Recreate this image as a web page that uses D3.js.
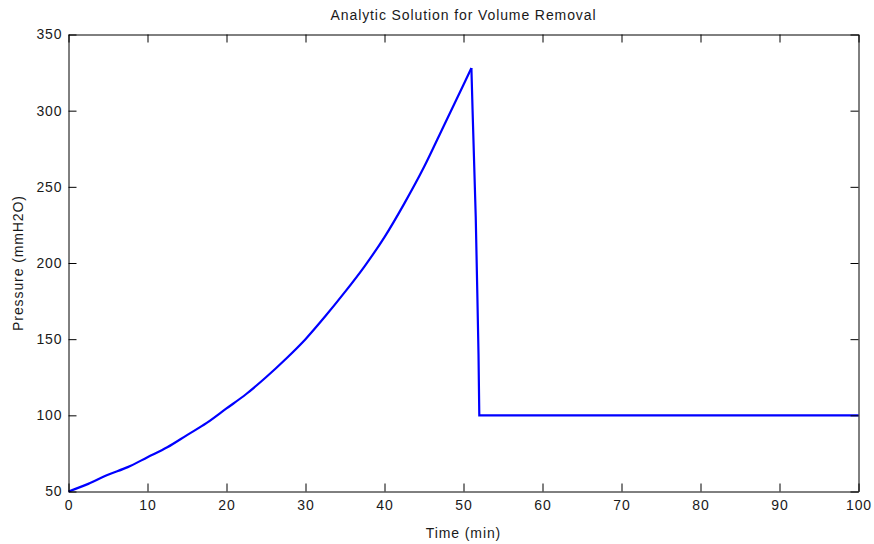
<!DOCTYPE html>
<meta charset="utf-8">
<script src="https://cdn.jsdelivr.net/npm/d3@7"></script>
<style>
  body { margin: 0; background: #fff; }
  text { font-family: "Liberation Sans", Arial, sans-serif; font-size: 14px; letter-spacing: 0.9px; fill: #1a1a1a; }
</style>
<body>
<script>

var width = 874
var height = 544

// readings from the picture
var time = [0, 2.5, 5, 7.5, 10, 12.5, 15, 17.5, 20, 22.5, 25, 27.5, 30, 32.5, 35, 37.5, 40, 42.5, 45, 47.5, 50, 51,
            51.15, 51.35, 51.55, 51.75, 51.9, 52, 100]
var pressure = [50, 55, 61, 66, 72.5, 79, 87, 95, 104.5, 114, 125, 137, 150, 165, 181, 198, 217, 239, 263, 290, 317, 328,
                300, 265, 230, 180, 140, 100, 100]
var xTicks = [0, 10, 20, 30, 40, 50, 60, 70, 80, 90, 100]
var yTicks = [50, 100, 150, 200, 250, 300, 350]

var plotLeft = 68.5, plotRight = 858.5, plotTop = 34.5, plotBottom = 491.5

var x = d3.scaleLinear().domain([0, 100]).range([plotLeft, plotRight])
var y = d3.scaleLinear().domain([50, 350]).range([plotBottom, plotTop])

var svg = d3.select("body").append("svg")
    .attr("width", width)
    .attr("height", height)

// curve: smooth rise up to the peak, straight segments for the drop
var pts = time.map(function(t, i) { return [t, pressure[i]] })
var peak = d3.maxIndex(pressure)
var rise = d3.line().x(function(d) { return x(d[0]) }).y(function(d) { return y(d[1]) }).curve(d3.curveMonotoneX)
var drop = d3.line().x(function(d) { return x(d[0]) }).y(function(d) { return y(d[1]) })

svg.append("path")
   .attr("d", rise(pts.slice(0, peak + 1)))
   .attr("fill", "none")
   .attr("stroke", "#0000ff")
   .attr("stroke-width", 2.2)
svg.append("path")
   .attr("d", drop(pts.slice(peak)))
   .attr("fill", "none")
   .attr("stroke", "#0000ff")
   .attr("stroke-width", 2.2)
   .attr("stroke-linejoin", "miter")

// axes, ticks point inward like matlab
svg.append("g")
   .attr("transform", "translate(0," + plotBottom + ")")
   .call(d3.axisBottom(x).tickValues(xTicks).tickSizeInner(-8).tickSizeOuter(0).tickPadding(9))
svg.append("g")
   .attr("transform", "translate(0," + plotTop + ")")
   .call(d3.axisTop(x).tickValues(xTicks).tickSizeInner(-8).tickSizeOuter(0).tickFormat(""))
svg.append("g")
   .attr("transform", "translate(" + plotLeft + ",0)")
   .call(d3.axisLeft(y).tickValues(yTicks).tickSizeInner(-8).tickSizeOuter(0).tickPadding(6))
svg.append("g")
   .attr("transform", "translate(" + plotRight + ",0)")
   .call(d3.axisRight(y).tickValues(yTicks).tickSizeInner(-8).tickSizeOuter(0).tickFormat(""))

svg.selectAll(".domain").attr("stroke", "#000")
svg.selectAll(".tick line").attr("stroke", "#000")
svg.selectAll(".tick text").style("font-size", "14px").attr("fill", "#1a1a1a").attr("font-family", null)

svg.append("text")
   .attr("x", (plotLeft + plotRight) / 2)
   .attr("y", 20)
   .style("text-anchor", "middle")
   .text("Analytic Solution for Volume Removal")

svg.append("text")
   .attr("x", (plotLeft + plotRight) / 2)
   .attr("y", 538)
   .style("text-anchor", "middle")
   .text("Time (min)")

svg.append("text")
   .attr("transform", "translate(23," + ((plotTop + plotBottom) / 2) + ") rotate(-90)")
   .style("text-anchor", "middle")
   .text("Pressure (mmH2O)")

</script>
</body>
